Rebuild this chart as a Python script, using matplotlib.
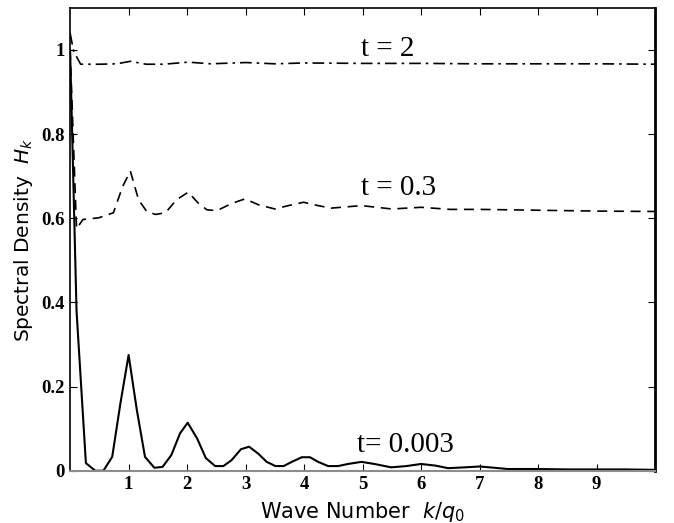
import matplotlib
matplotlib.use("Agg")
import matplotlib.pyplot as plt

# t = 0.003 (solid)
k_early = [0.0, 0.11, 0.27, 0.43, 0.57, 0.72, 0.86, 1.0, 1.14, 1.28, 1.44, 1.58,
           1.73, 1.88, 2.01, 2.17, 2.32, 2.48, 2.62, 2.76, 2.92, 3.06, 3.22, 3.36,
           3.51, 3.65, 3.79, 3.96, 4.1, 4.24, 4.41, 4.58, 4.75, 4.98, 5.2, 5.49,
           5.75, 6.0, 6.25, 6.46, 6.75, 7.0, 7.25, 7.48, 8.0, 8.5, 9.0, 9.5, 10.0]
h_early = [1.0, 0.38, 0.018, 0.0, 0.0, 0.033, 0.16, 0.275, 0.145, 0.033, 0.007, 0.009,
           0.037, 0.089, 0.114, 0.077, 0.03, 0.011, 0.011, 0.025, 0.051, 0.057, 0.04, 0.021,
           0.011, 0.011, 0.021, 0.032, 0.032, 0.021, 0.011, 0.011, 0.016, 0.021, 0.016, 0.008,
           0.011, 0.016, 0.012, 0.006, 0.008, 0.01, 0.007, 0.004, 0.004, 0.003, 0.003, 0.003, 0.002]

# t = 0.3 (dashed)
k_mid = [0.0, 0.11, 0.22, 0.49, 0.74, 0.9, 1.03, 1.17, 1.31, 1.46, 1.63, 1.82,
         2.02, 2.19, 2.34, 2.51, 2.76, 2.99, 3.22, 3.5, 3.73, 3.99, 4.24, 4.46,
         4.98, 5.5, 6.0, 6.5, 7.0, 8.0, 9.0, 10.0]
h_mid = [1.0, 0.575, 0.597, 0.601, 0.613, 0.676, 0.712, 0.644, 0.616, 0.609, 0.613, 0.644,
         0.662, 0.636, 0.62, 0.618, 0.635, 0.646, 0.632, 0.622, 0.630, 0.638, 0.630, 0.624,
         0.63, 0.622, 0.626, 0.621, 0.621, 0.619, 0.617, 0.616]

# t = 2 (dash-dot)
k_late = [0.0, 0.06, 0.18, 0.5, 0.8, 1.03, 1.3, 1.6, 2.02, 2.4, 3.0, 3.5, 4.0,
          5.0, 6.0, 7.0, 8.0, 9.0, 10.0]
h_late = [1.04, 0.997, 0.966, 0.966, 0.967, 0.973, 0.966, 0.966, 0.971, 0.967, 0.970,
          0.967, 0.969, 0.968, 0.968, 0.967, 0.967, 0.967, 0.966]

x_ticks = [1, 2, 3, 4, 5, 6, 7, 8, 9]
y_ticks = [0, 0.2, 0.4, 0.6, 0.8, 1.0]
y_tick_labels = ["0", "0.2", "0.4", "0.6", "0.8", "1"]

fig = plt.figure(figsize=(6.74, 5.23), dpi=100)
ax = fig.add_axes([0.104, 0.1, 0.868, 0.885])

ax.plot(k_early, h_early, color="black", lw=1.5, ls="-")
ax.plot(k_mid, h_mid, color="black", lw=1.2, ls=(0, (6, 4)))
ax.plot(k_late, h_late, color="black", lw=1.2, ls=(0, (7, 3, 1.5, 3)))

serif = "Liberation Serif"
ax.text(4.98, 0.985, "t = 2", fontsize=21, family=serif)
ax.text(4.98, 0.656, "t = 0.3", fontsize=21, family=serif)
ax.text(4.91, 0.045, "t= 0.003", fontsize=21, family=serif)

ax.set_xlim(0, 10)
ax.set_ylim(0, 1.1)
ax.set_xticks(x_ticks)
ax.set_yticks(y_ticks)
ax.set_yticklabels(y_tick_labels)
ax.tick_params(direction="in", length=5, width=0.8, top=True, right=True, pad=4)
for lab in ax.get_xticklabels() + ax.get_yticklabels():
    lab.set_family(serif)
    lab.set_fontweight("bold")
    lab.set_fontsize(13.5)

for side in ["left", "top"]:
    ax.spines[side].set_linewidth(1.2)
ax.spines["right"].set_linewidth(2.0)
ax.spines["bottom"].set_linewidth(1.5)
ax.spines["bottom"].set_color("0.55")

ax.set_xlabel("Wave Number  $k/q_0$", fontsize=15, labelpad=5)
ax.set_ylabel("Spectral Density  $H_k$", fontsize=14.5, labelpad=4)

fig.savefig("out.png", dpi=100)
